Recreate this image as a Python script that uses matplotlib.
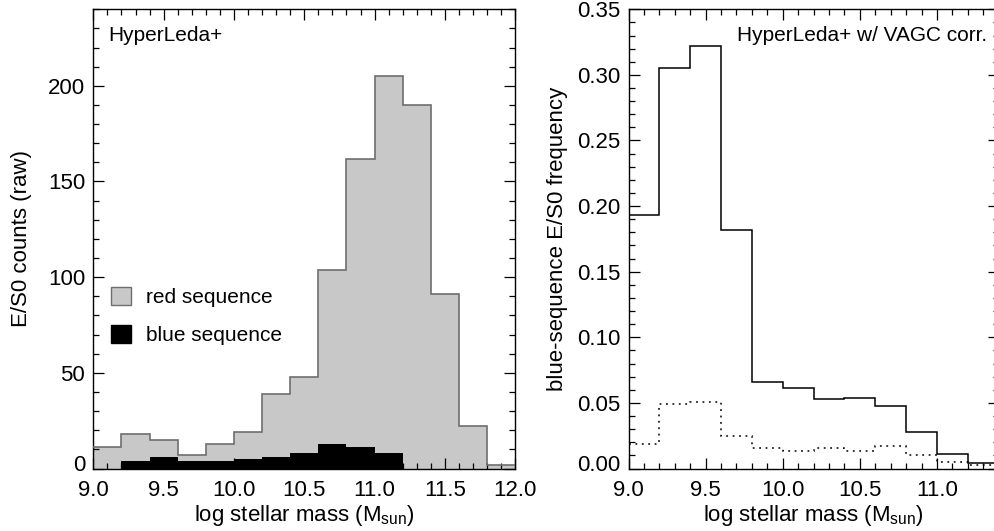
import numpy as np
import matplotlib
matplotlib.use('Agg')
import matplotlib.pyplot as plt
import matplotlib.transforms as mtransforms
from matplotlib.patches import Patch
from matplotlib.ticker import MultipleLocator, FormatStrFormatter

plt.rcParams['font.family'] = ['Liberation Sans', 'DejaVu Sans']
plt.rcParams['mathtext.fontset'] = 'custom'
plt.rcParams['mathtext.rm'] = 'Liberation Sans'
plt.rcParams['mathtext.it'] = 'Liberation Sans:italic'

# ----------- data -----------
mass_edges = [9.0, 9.2, 9.4, 9.6, 9.8, 10.0, 10.2, 10.4, 10.6,
              10.8, 11.0, 11.2, 11.4, 11.6, 11.8, 12.0]
red_counts = [11, 18, 15, 7, 13, 19, 39, 48, 104, 162, 205, 190, 91, 22, 2]
blue_counts = [0, 4, 6, 4, 4, 5, 6, 8, 13, 11, 8, 0, 0, 0, 0]

freq_edges = [9.0, 9.2, 9.4, 9.6, 9.8, 10.0, 10.2, 10.4, 10.6,
              10.8, 11.0, 11.2, 11.4]
blue_freq = [0.193, 0.305, 0.322, 0.182, 0.066, 0.061, 0.053, 0.054,
             0.048, 0.028, 0.011, 0.0045]
blue_freq_err = [0.019, 0.049, 0.051, 0.025, 0.0155, 0.0133, 0.016, 0.0135,
                 0.0168, 0.0105, 0.005, 0.0026]

FS = 16
GREY = '#c8c8c8'
GREY_EDGE = '#6e6e6e'


def style_axes(ax, xmaj, xmin, ymaj, ymin):
    ax.xaxis.set_major_locator(MultipleLocator(xmaj))
    ax.xaxis.set_minor_locator(MultipleLocator(xmin))
    ax.yaxis.set_major_locator(MultipleLocator(ymaj))
    ax.yaxis.set_minor_locator(MultipleLocator(ymin))
    ax.tick_params(which='both', direction='in', top=True, right=True,
                   labelsize=FS, width=0.9, color='black')
    ax.tick_params(which='major', length=8)
    ax.tick_params(which='minor', length=4)
    ax.tick_params(axis='x', pad=8)
    ax.tick_params(axis='y', pad=6)
    for sp in ax.spines.values():
        sp.set_linewidth(1.0)


def lift_bottom_label(fig, ax):
    # the lowest y label sits a bit above its tick in the original
    fig.canvas.draw()
    lab = ax.yaxis.get_majorticklabels()[0]
    for t in ax.yaxis.get_majorticklabels():
        if t.get_position()[1] == ax.get_ylim()[0]:
            lab = t
    lab.set_transform(lab.get_transform() +
                      mtransforms.ScaledTranslation(0, 6 / 100, fig.dpi_scale_trans))


fig = plt.figure(figsize=(9.94, 5.31), dpi=100)

# ----------- left: raw counts -----------
ax1 = fig.add_axes([0.0939, 0.1177, 0.4244, 0.8648])
ax1.stairs(red_counts, mass_edges, fill=True, facecolor=GREY,
           edgecolor='none', zorder=1)
ax1.stairs(blue_counts, mass_edges, fill=True, facecolor='black',
           edgecolor='none', zorder=2)
ax1.stairs(red_counts, mass_edges, baseline=None, color=GREY_EDGE,
           linewidth=1.2, zorder=3)
ax1.set_xlim(9.0, 12.0)
ax1.set_ylim(0, 240)
style_axes(ax1, 0.5, 0.1, 50, 10)
ax1.set_xlabel('log stellar mass (M$_{\\rm sun}$)', fontsize=FS, labelpad=2)
ax1.set_ylabel('E/S0 counts (raw)', fontsize=FS)
ax1.yaxis.set_label_coords(-0.145, 0.5)
ax1.text(0.035, 0.944, 'HyperLeda+', transform=ax1.transAxes,
         fontsize=FS - 1, ha='left', va='center')
handles = [Patch(facecolor=GREY, edgecolor=GREY_EDGE, linewidth=1.0),
           Patch(facecolor='black', edgecolor='black')]
ax1.legend(handles, ['red sequence', 'blue sequence'], loc='upper left',
           bbox_to_anchor=(0.043, 0.395), frameon=False, fontsize=FS - 1,
           handlelength=0.95, handleheight=0.95, handletextpad=0.7,
           labelspacing=0.85, borderpad=0, borderaxespad=0)

# ----------- right: blue-sequence frequency -----------
ax2 = fig.add_axes([0.6323, 0.1177, 0.3724, 0.8648])
ax2.stairs(blue_freq, freq_edges, baseline=None, color='black', linewidth=1.1)
ax2.stairs(blue_freq_err, freq_edges, baseline=None, color='black',
           linewidth=1.1, linestyle=(0, (1.2, 3)))
ax2.set_xlim(9.0, 11.4)
ax2.set_ylim(0, 0.35)
style_axes(ax2, 0.5, 0.1, 0.05, 0.01)
ax2.yaxis.set_major_formatter(FormatStrFormatter('%.2f'))
ax2.set_xlabel('log stellar mass (M$_{\\rm sun}$)', fontsize=FS, labelpad=2)
ax2.set_ylabel('blue-sequence E/S0 frequency', fontsize=FS)
ax2.yaxis.set_label_coords(-0.163, 0.5)
ax2.text(0.968, 0.944, 'HyperLeda+ w/ VAGC corr.', transform=ax2.transAxes,
         fontsize=FS - 1, ha='right', va='center')

lift_bottom_label(fig, ax1)
lift_bottom_label(fig, ax2)

fig.savefig('out.png', dpi=100)
